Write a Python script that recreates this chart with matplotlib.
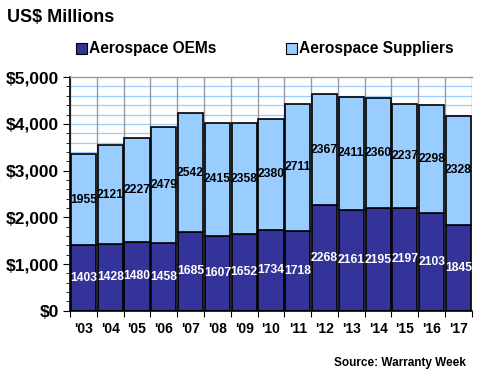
import matplotlib.pyplot as plt
import numpy as np

years = ["'03", "'04", "'05", "'06", "'07", "'08", "'09", "'10",
         "'11", "'12", "'13", "'14", "'15", "'16", "'17"]
oems = [1403, 1428, 1480, 1458, 1685, 1607, 1652, 1734,
        1718, 2268, 2161, 2195, 2197, 2103, 1845]
suppliers = [1955, 2121, 2227, 2479, 2542, 2415, 2358, 2380,
             2711, 2367, 2411, 2360, 2237, 2298, 2328]
yticks = [0, 1000, 2000, 3000, 4000, 5000]
ytick_labels = ['$0', '$1,000', '$2,000', '$3,000', '$4,000', '$5,000']

OEM_COLOR = '#333399'
SUP_COLOR = '#99CCFF'

plt.rcParams['font.family'] = ['Liberation Sans', 'DejaVu Sans']

fig = plt.figure(figsize=(4.8, 3.8), dpi=100)
ax = fig.add_axes([0.146, 0.182, 0.837, 0.615])

x = np.arange(len(years))

# light blue horizontal grid every 200, gray vertical lines between bars
for v in range(200, 5000, 200):
    ax.axhline(v, color='#99CCFF', lw=0.9, zorder=0)
for b in np.arange(-0.5, len(years), 1.0):
    ax.axvline(b, color='#999999', lw=1.0, zorder=0)

ax.bar(x, oems, width=0.94, color=OEM_COLOR, edgecolor='black', lw=1.2, zorder=2)
ax.bar(x, suppliers, width=0.94, bottom=oems, color=SUP_COLOR,
       edgecolor='black', lw=1.2, zorder=2)

for i in range(len(years)):
    ax.text(x[i], oems[i] / 2, str(oems[i]), color='white', ha='center',
            va='center', fontsize=8.7, fontweight='bold', zorder=3)
    ax.text(x[i], oems[i] + suppliers[i] / 2, str(suppliers[i]), color='black',
            ha='center', va='center', fontsize=8.7, fontweight='bold', zorder=3)

ax.set_xlim(-0.5, len(years) - 0.5)
ax.set_ylim(0, 5000)
ax.set_yticks(yticks)
ax.set_yticklabels(ytick_labels, fontsize=12.5, fontweight='bold')
ax.set_yticks(range(0, 5001, 200), minor=True)
ax.set_xticks(np.arange(-0.5, len(years), 1.0))
ax.set_xticklabels([])
ax.set_xticks(x, minor=True)
ax.set_xticklabels(years, minor=True, fontsize=10, fontweight='bold')
ax.tick_params(axis='x', which='minor', length=0, pad=8)
ax.tick_params(axis='x', which='major', length=4, direction='out')
ax.tick_params(axis='y', which='major', length=5, pad=3)
ax.tick_params(axis='y', which='minor', length=3)

ax.spines['right'].set_visible(False)
ax.spines['top'].set_color('#999999')
ax.spines['top'].set_linewidth(1.0)
ax.spines['left'].set_linewidth(1.2)
ax.spines['bottom'].set_linewidth(1.2)

fig.text(0.015, 0.955, 'US$ Millions', fontsize=13, fontweight='bold', va='center')

# legend
fig.patches.append(plt.Rectangle((0.158, 0.858), 0.023, 0.029, transform=fig.transFigure,
                                 facecolor=OEM_COLOR, edgecolor='black', lw=0.8))
fig.text(0.186, 0.872, 'Aerospace OEMs', fontsize=11.2, fontweight='bold', va='center')
fig.patches.append(plt.Rectangle((0.595, 0.858), 0.023, 0.029, transform=fig.transFigure,
                                 facecolor=SUP_COLOR, edgecolor='black', lw=0.8))
fig.text(0.623, 0.872, 'Aerospace Suppliers', fontsize=11.2, fontweight='bold', va='center')

fig.text(0.97, 0.045, 'Source: Warranty Week', fontsize=8.5, fontweight='bold',
         ha='right', va='center')

fig.savefig('out.png', dpi=100)
